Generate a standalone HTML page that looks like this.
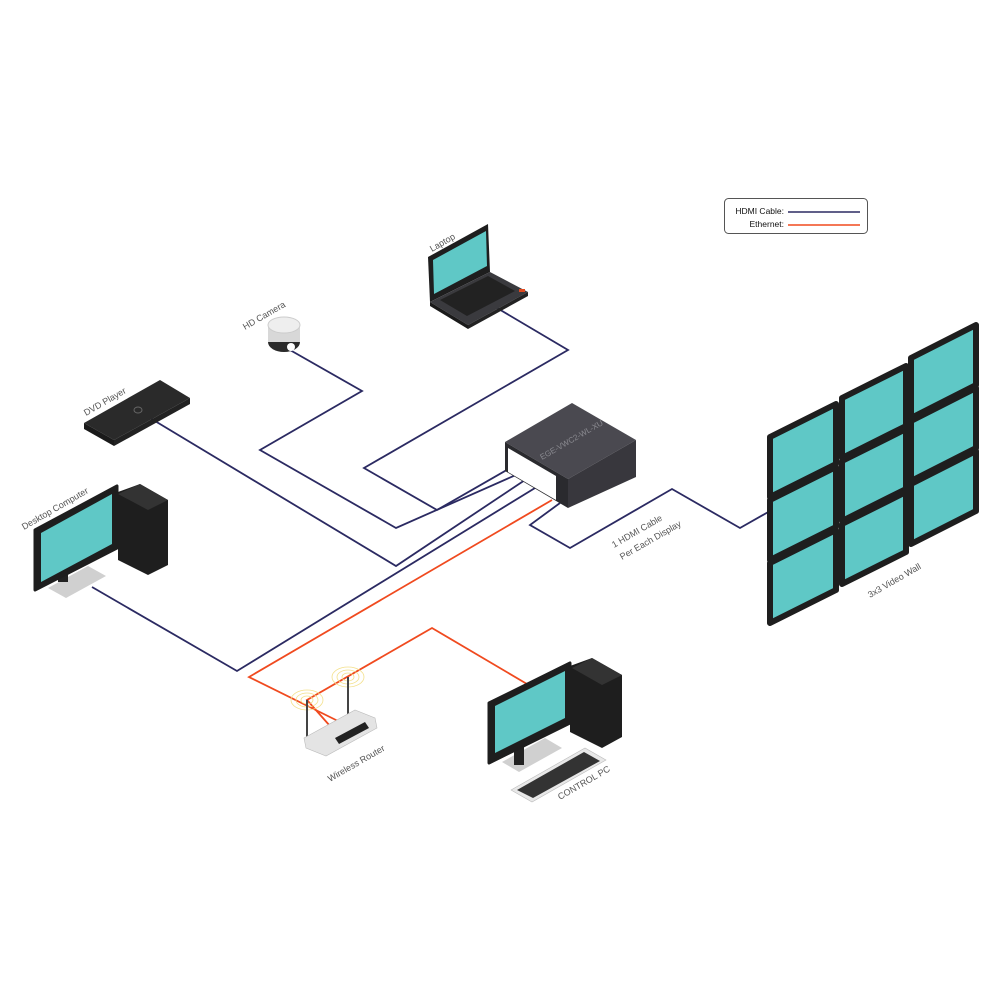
<!DOCTYPE html>
<html><head><style>
html,body{margin:0;padding:0;background:#fff;}
svg{display:block;}
text{font-family:"Liberation Sans",sans-serif;}
</style></head><body>
<svg width="1000" height="1000" viewBox="0 0 1000 1000" xmlns="http://www.w3.org/2000/svg">
<rect width="1000" height="1000" fill="#fff"/>
<!-- legend -->
<rect x="724.5" y="198.5" width="143" height="35" rx="4" fill="#fff" stroke="#555" stroke-width="1"/>
<text x="784" y="214" font-size="8.5" text-anchor="end" fill="#111">HDMI Cable:</text>
<text x="784" y="227" font-size="8.5" text-anchor="end" fill="#111">Ethernet:</text>
<line x1="788" y1="212" x2="860" y2="212" stroke="#2b2a62" stroke-width="1.5"/>
<line x1="788" y1="225" x2="860" y2="225" stroke="#f04a1f" stroke-width="1.5"/>

<g fill="none" stroke-width="1.8" stroke-linejoin="miter">
<g stroke="#2b2a62">
<polyline points="497,308 568,350 364,468 437,510 512,467"/>
<polyline points="290,350 362,391 260,450 396,528 518,474"/>
<polyline points="150,418 396,566 525,480"/>
<polyline points="92,587 237,671 535,488"/>
<polyline points="560,503 530,525 570,548 672,489 740,528 770,511"/>
</g>
<g stroke="#f04a1f">
<polyline points="552,500 249,677 340,722"/>
<polyline points="527,684 432,628 307,700 330,726"/>
</g>
</g>

<!-- video wall -->
<g stroke="#1e1e1e" stroke-width="6" stroke-linejoin="round" fill="#5fc8c6">
<path d="M770,437 l66,-33 v60 l-66,33z"/><path d="M770,500 l66,-33 v60 l-66,33z"/><path d="M770,563 l66,-33 v60 l-66,33z"/>
<path d="M842,398 l64,-32 v60 l-64,32z"/><path d="M842,461 l64,-32 v60 l-64,32z"/><path d="M842,524 l64,-32 v60 l-64,32z"/>
<path d="M911,358 l65,-33 v60 l-65,33z"/><path d="M911,421 l65,-33 v60 l-65,33z"/><path d="M911,484 l65,-33 v60 l-65,33z"/>
</g>
<text transform="translate(870,598) rotate(-30)" font-size="9" fill="#555">3x3 Video Wall</text>

<!-- central box -->
<polygon points="505,442 572,403 636,440 568,479" fill="#4a4950"/>
<polygon points="568,479 636,440 636,477 568,508" fill="#38373d"/>
<polygon points="505,442 568,479 568,508 505,471" fill="#2a2a2e"/>
<polygon points="508,448 556,476 556,500 508,472" fill="#fff"/>
<text transform="translate(542,460) rotate(-30)" font-size="8" fill="#8a8a90">EGE-VWC2-WL-XU</text>
<text transform="translate(614,548) rotate(-30)" font-size="9" fill="#555">1 HDMI Cable</text>
<text transform="translate(622,560) rotate(-30)" font-size="9" fill="#555">Per Each Display</text>

<!-- laptop -->
<polygon points="428,257 488,224 490,272 430,302" fill="#1e1e1e"/>
<polygon points="433,260 486,231 487,266 434,294" fill="#5fc8c6"/>
<polygon points="430,302 490,272 528,292 468,325" fill="#3a3a3e"/>
<polygon points="430,302 468,325 468,329 430,306" fill="#1a1a1a"/>
<polygon points="468,325 528,292 528,296 468,329" fill="#222"/>
<polygon points="440,300 488,276 515,291 467,316" fill="#222"/>
<rect x="519" y="289" width="6" height="3" fill="#e04a20"/>
<text transform="translate(432,252) rotate(-30)" font-size="9" fill="#555">Laptop</text>

<!-- camera -->
<ellipse cx="284" cy="342" rx="16" ry="10" fill="#2a2a2a"/>
<rect x="268" y="325" width="32" height="17" fill="#d8d8d8"/>
<ellipse cx="284" cy="325" rx="16" ry="8" fill="#eee" stroke="#ccc"/>
<circle cx="291" cy="347" r="4" fill="#fff"/>
<text transform="translate(245,330) rotate(-30)" font-size="9" fill="#555">HD Camera</text>

<!-- DVD -->
<polygon points="84,423 160,380 190,398 114,440" fill="#2a2a2a"/>
<polygon points="84,423 114,440 114,446 84,429" fill="#1a1a1a"/>
<polygon points="114,440 190,398 190,404 114,446" fill="#222"/>
<ellipse cx="138" cy="410" rx="4" ry="3" fill="none" stroke="#666"/>
<text transform="translate(86,416) rotate(-30)" font-size="9" fill="#555">DVD Player</text>

<!-- desktop computer -->
<polygon points="118,492 140,484 168,500 168,565 148,575 118,560" fill="#1e1e1e"/>
<polygon points="140,484 168,500 148,510 118,494" fill="#333"/>
<polygon points="48,588 88,566 106,576 66,598" fill="#d0d0d0"/>
<rect x="58" y="560" width="10" height="22" fill="#222"/>
<polygon points="35,530 117,486 117,548 35,590" fill="#1e1e1e" stroke="#1e1e1e" stroke-width="3" stroke-linejoin="round"/>
<polygon points="41,533 112,494 112,544 41,582" fill="#5fc8c6"/>
<text transform="translate(24,530) rotate(-30)" font-size="9" fill="#555">Desktop Computer</text>

<!-- router -->
<g fill="none" stroke="#f3e08a" stroke-width="0.8">
<ellipse cx="307" cy="700" rx="6" ry="4"/><ellipse cx="307" cy="700" rx="11" ry="7"/><ellipse cx="307" cy="700" rx="16" ry="10"/>
<ellipse cx="348" cy="677" rx="6" ry="4"/><ellipse cx="348" cy="677" rx="11" ry="7"/><ellipse cx="348" cy="677" rx="16" ry="10"/>
</g>
<line x1="307" y1="700" x2="307" y2="740" stroke="#444" stroke-width="2"/>
<line x1="348" y1="677" x2="348" y2="720" stroke="#444" stroke-width="2"/>
<polygon points="304,738 355,710 375,718 377,728 326,756 306,748" fill="#e4e4e4" stroke="#bbb" stroke-width="0.6"/>
<polygon points="335,738 365,722 369,728 339,744" fill="#222"/>
<text transform="translate(330,782) rotate(-30)" font-size="9" fill="#555">Wireless Router</text>

<!-- control PC -->
<polygon points="570,666 592,658 622,675 622,737 602,748 570,732" fill="#1e1e1e"/>
<polygon points="592,658 622,675 602,685 572,668" fill="#333"/>
<polygon points="502,762 545,738 562,748 519,772" fill="#d0d0d0"/>
<rect x="514" y="735" width="10" height="30" fill="#222"/>
<polygon points="489,703 570,663 570,723 489,763" fill="#1e1e1e" stroke="#1e1e1e" stroke-width="3" stroke-linejoin="round"/>
<polygon points="495,706 565,671 565,718 495,753" fill="#5fc8c6"/>
<polygon points="511,790 585,748 606,760 532,802" fill="#e8e8e8" stroke="#bbb" stroke-width="0.6"/>
<polygon points="517,790 584,752 600,761 533,798" fill="#333"/>
<text transform="translate(560,800) rotate(-30)" font-size="9" fill="#555">CONTROL PC</text>
</svg>
</body></html>
